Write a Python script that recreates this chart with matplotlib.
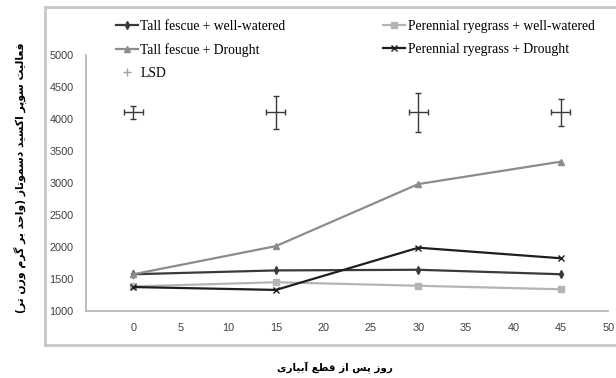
import matplotlib
matplotlib.use("Agg")
import matplotlib.pyplot as plt
from matplotlib.lines import Line2D

# data
days = [0, 15, 30, 45]
tall_fescue_ww = [1570, 1630, 1640, 1570]
ryegrass_ww = [1380, 1445, 1390, 1335]
tall_fescue_drought = [1570, 2010, 2980, 3330]
ryegrass_drought = [1370, 1325, 1985, 1820]
lsd_y = [4100, 4100, 4100, 4100]
lsd_err = [100, 260, 305, 215]
lsd_xerr = [1, 1, 1, 1]

y_label = "فعالیت سوپر اکسید دسموتاز (واحد بر گرم وزن تر)"
x_label = "روز پس از قطع آبیاری"

# (isolated, final, initial, medial) presentation forms
FORMS = {
    "ا": ("\uFE8D", "\uFE8E"), "آ": ("\uFE81", "\uFE82"),
    "د": ("\uFEA9", "\uFEAA"), "ر": ("\uFEAD", "\uFEAE"),
    "ز": ("\uFEAF", "\uFEB0"), "و": ("\uFEED", "\uFEEE"),
    "ب": ("\uFE8F", "\uFE90", "\uFE91", "\uFE92"),
    "پ": ("\uFB56", "\uFB57", "\uFB58", "\uFB59"),
    "ت": ("\uFE95", "\uFE96", "\uFE97", "\uFE98"),
    "ح": ("\uFEA1", "\uFEA2", "\uFEA3", "\uFEA4"),
    "س": ("\uFEB1", "\uFEB2", "\uFEB3", "\uFEB4"),
    "ط": ("\uFEC1", "\uFEC2", "\uFEC3", "\uFEC4"),
    "ع": ("\uFEC9", "\uFECA", "\uFECB", "\uFECC"),
    "ف": ("\uFED1", "\uFED2", "\uFED3", "\uFED4"),
    "ق": ("\uFED5", "\uFED6", "\uFED7", "\uFED8"),
    "ک": ("\uFB8E", "\uFB8F", "\uFB90", "\uFB91"),
    "گ": ("\uFB92", "\uFB93", "\uFB94", "\uFB95"),
    "ل": ("\uFEDD", "\uFEDE", "\uFEDF", "\uFEE0"),
    "م": ("\uFEE1", "\uFEE2", "\uFEE3", "\uFEE4"),
    "ن": ("\uFEE5", "\uFEE6", "\uFEE7", "\uFEE8"),
    "ی": ("\uFBFC", "\uFBFD", "\uFBFE", "\uFBFF"),
}


def shape_rtl(text):
    out = []
    for i, ch in enumerate(text):
        f = FORMS.get(ch)
        if f is None:
            out.append({"(": ")", ")": "("}.get(ch, ch))
            continue
        prev = text[i - 1] if i > 0 else ""
        nxt = text[i + 1] if i + 1 < len(text) else ""
        joins_prev = prev in FORMS and len(FORMS[prev]) == 4
        joins_next = len(f) == 4 and nxt in FORMS
        if joins_prev and joins_next:
            out.append(f[3])
        elif joins_prev:
            out.append(f[1])
        elif joins_next:
            out.append(f[2])
        else:
            out.append(f[0])
    return "".join(reversed(out))


fig = plt.figure(figsize=(6.16, 3.78), dpi=100)
ax = fig.add_axes([0.1396, 0.178, 0.848, 0.677])

ax.plot(days, tall_fescue_ww, color="#3a3a3a", lw=1.6, marker="d", ms=4,
        label="Tall fescue + well-watered")
ax.plot(days, tall_fescue_drought, color="#8c8c8c", lw=1.6, marker="^", ms=4,
        label="Tall fescue + Drought")
ax.plot(days, ryegrass_ww, color="#b4b4b4", lw=1.6, marker="s", ms=4,
        label="Perennial ryegrass + well-watered")
ax.plot(days, ryegrass_drought, color="#1e1e1e", lw=1.6, marker="x", ms=5,
        label="Perennial ryegrass + Drought")
ax.errorbar(days, lsd_y, yerr=lsd_err, xerr=lsd_xerr, fmt="none",
            ecolor="#3a3a3a", elinewidth=1.0, capsize=2)

lsd_handle = Line2D([], [], color="#a0a0a0", marker="+", ls="none", ms=6)
h, l = ax.get_legend_handles_labels()
handles = [h[0], h[1], lsd_handle, h[2], h[3]]
labels = [l[0], l[1], "LSD", l[2], l[3]]
fig.legend(handles, labels, ncol=2, loc="upper left", bbox_to_anchor=(0.168, 0.98),
           frameon=False, prop={"family": "Liberation Serif", "size": 9.8},
           handlelength=1.6, handletextpad=0.2, columnspacing=7.2, labelspacing=0.75)

ax.set_xlim(-5, 50)
ax.set_ylim(1000, 5000)
ax.set_xticks(range(0, 55, 5))
ax.set_yticks(range(1000, 5500, 500))
for s in ["top", "right"]:
    ax.spines[s].set_visible(False)
for s in ["left", "bottom"]:
    ax.spines[s].set_color("#b0b0b0")
    ax.spines[s].set_linewidth(1.2)
ax.tick_params(length=0, labelsize=7.8, labelcolor="#404040", pad=9)
for t in ax.get_xticklabels() + ax.get_yticklabels():
    t.set_family("Liberation Sans")

fig.text(0.032, 0.53, shape_rtl(y_label), rotation=90, ha="center", va="center",
         family="DejaVu Sans", weight="bold", fontsize=7.8)
fig.text(0.543, 0.027, shape_rtl(x_label), ha="center", va="center",
         family="DejaVu Sans", weight="bold", fontsize=7.5)

# outer chart frame (right edge is cut off in the reference)
frame = dict(color="#c8c8c8", lw=2.0, transform=fig.transFigure, clip_on=False)
fig.add_artist(Line2D([0.073, 0.073], [0.087, 0.981], **frame))
fig.add_artist(Line2D([0.073, 1.0], [0.981, 0.981], **frame))
fig.add_artist(Line2D([0.073, 1.0], [0.087, 0.087], **frame))

fig.savefig("out.png", dpi=100)
